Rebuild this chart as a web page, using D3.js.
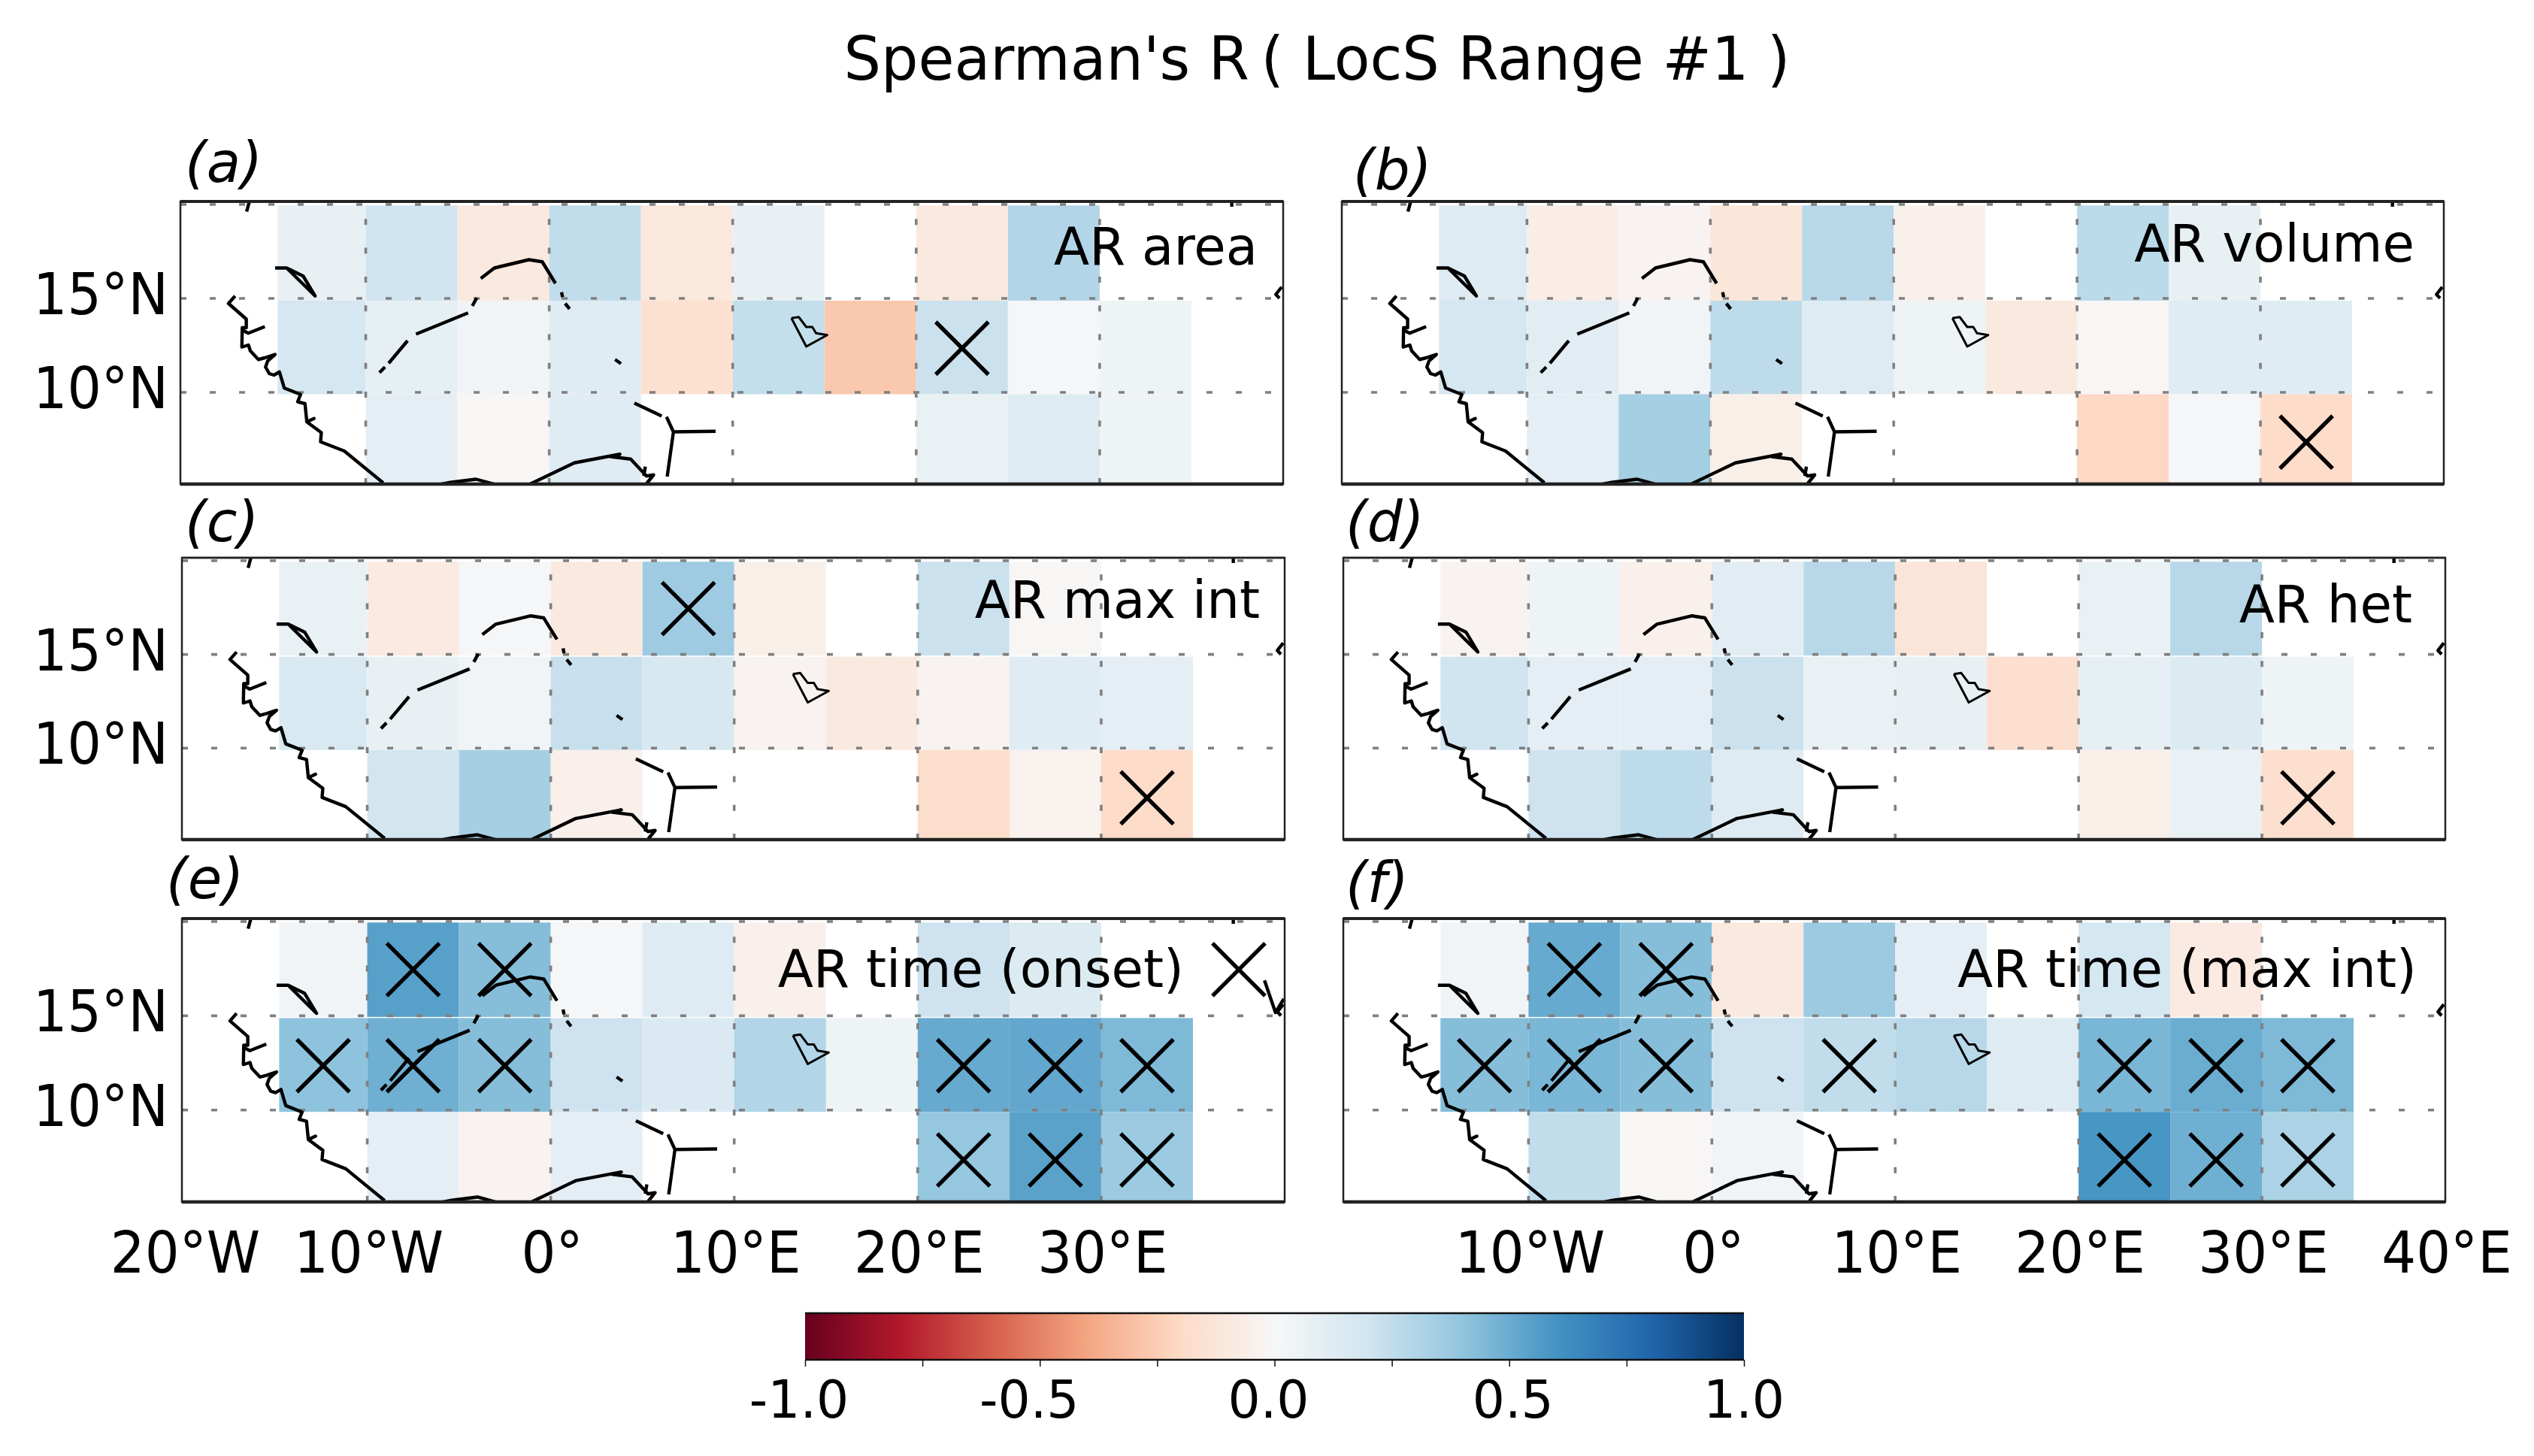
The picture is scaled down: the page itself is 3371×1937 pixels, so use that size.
<!DOCTYPE html>
<html>
<head>
<meta charset="utf-8">
<script src="https://cdn.jsdelivr.net/npm/d3@7"></script>
<style>
  html, body { margin: 0; padding: 0; background: #fff; }
  text { font-family: "DejaVu Sans", sans-serif; fill: #000; }
</style>
</head>
<body>
<div id="chart"></div>
<script>
// grid of the correlation maps
const lonEdges = [-14.8, -10, -5, 0, 5, 10, 15, 20, 25, 30, 35, 40];
const latEdges = [19.95, 14.88, 9.9, 4.9];
const latCenters = [17.45, 12.35, 7.35];

const lonTicks = [-20, -10, 0, 10, 20, 30, 40];
const latTicks = [15, 10];
const gridLons = [-10, 0, 10, 20, 30];
const gridLats = [20, 15, 10, 5];

const panelLetters = ["(a)", "(b)", "(c)", "(d)", "(e)", "(f)"];
const panelNames = ["AR area", "AR volume", "AR max int", "AR het", "AR time (onset)", "AR time (max int)"];

// Spearman's R, rows go north to south, columns west to east
const valuesA = [
  [0.08, 0.2, -0.1, 0.25, -0.11, 0.08, null, -0.1, 0.3, null, null],
  [0.18, 0.09, 0.03, 0.12, -0.16, 0.24, -0.27, 0.22, 0.01, 0.05, null],
  [null, 0.1, -0.01, 0.12, null, null, null, 0.07, 0.13, 0.05, null]
];
const valuesB = [
  [0.13, -0.07, -0.03, -0.12, 0.28, -0.05, null, 0.27, 0.08, null, null],
  [0.18, 0.11, 0.03, 0.26, 0.13, 0.05, -0.1, -0.01, 0.12, 0.12, null],
  [null, 0.1, 0.34, -0.06, null, null, null, -0.21, 0.01, -0.19, null]
];
const valuesC = [
  [0.07, -0.09, 0.01, -0.1, 0.36, -0.06, null, 0.22, -0.01, null, null],
  [0.16, 0.08, 0.03, 0.23, 0.17, -0.03, -0.1, -0.03, 0.12, 0.1, null],
  [null, 0.19, 0.34, -0.05, null, null, null, -0.18, -0.04, -0.19, null]
];
const valuesD = [
  [-0.03, 0.05, -0.05, 0.11, 0.28, -0.13, null, 0.07, 0.28, null, null],
  [0.2, 0.1, 0.1, 0.22, 0.07, 0.08, -0.17, 0.09, 0.14, 0.05, null],
  [null, 0.21, 0.26, 0.13, null, null, null, -0.06, 0.07, -0.17, null]
];
const valuesE = [
  [0.03, 0.55, 0.43, 0.01, 0.13, -0.05, null, 0.21, 0.14, null, null],
  [0.41, 0.49, 0.43, 0.21, 0.15, 0.3, 0.05, 0.51, 0.52, 0.45, null],
  [null, 0.1, -0.03, 0.1, null, null, null, 0.39, 0.54, 0.37, null]
];
const valuesF = [
  [0.03, 0.51, 0.43, -0.1, 0.37, 0.1, null, 0.18, -0.09, null, null],
  [0.43, 0.46, 0.43, 0.21, 0.25, 0.28, 0.13, 0.46, 0.5, 0.45, null],
  [null, 0.25, -0.01, 0.03, null, null, null, 0.59, 0.49, 0.32, null]
];
const panelValues = [valuesA, valuesB, valuesC, valuesD, valuesE, valuesF];

// significant cells as [row, column]
const sigA = [[1, 7]];
const sigB = [[2, 9]];
const sigC = [[0, 4], [2, 9]];
const sigD = [[2, 9]];
const sigE = [[0, 1], [0, 2], [0, 10], [1, 0], [1, 1], [1, 2], [1, 7], [1, 8], [1, 9], [2, 7], [2, 8], [2, 9]];
const sigF = [[0, 1], [0, 2], [1, 0], [1, 1], [1, 2], [1, 4], [1, 7], [1, 8], [1, 9], [2, 7], [2, 8], [2, 9]];
const panelSig = [sigA, sigB, sigC, sigD, sigE, sigF];

// coastline and river pieces as [lon, lat]
const westCoast = [[-17.12, 15.13], [-17.48, 14.73], [-16.51, 13.9], [-16.51, 13.44], [-16.73, 13.44], [-16.75, 12.41], [-16.39, 12.52], [-16.29, 12.21], [-15.85, 11.75], [-15.5, 11.84], [-14.94, 12.02], [-15.34, 11.68], [-15.46, 11.35], [-15.26, 11.0], [-15.0, 10.92], [-14.7, 11.09], [-14.44, 10.23], [-13.55, 9.89], [-13.71, 9.5], [-13.31, 9.4], [-13.21, 8.43], [-12.82, 8.61], [-13.21, 8.43], [-12.42, 7.86], [-12.46, 7.37], [-11.17, 6.88], [-9.05, 5.19]];
const gambiaInlet = [[-16.7, 13.3], [-16.4, 13.15], [-15.5, 13.5]];
const ivoryCoast = [[-6.57, 4.99], [-5.38, 5.21], [-3.99, 5.38], [-3.0, 5.12], [-3.0, 4.9]];
const guineaCoast = [[-1.41, 4.95], [1.37, 6.25], [3.85, 6.71], [3.35, 6.58], [4.44, 6.45], [5.3, 5.55], [5.69, 5.61], [5.34, 5.19], [5.44, 4.9]];
const nigerSpur = [[5.24, 6.05], [5.15, 5.55]];
const senegalRiver = [[-14.94, 16.62], [-14.31, 16.62], [-13.41, 16.19], [-12.76, 15.13], [-14.31, 16.62]];
const nigerArch = [[-3.73, 16.06], [-2.99, 16.62], [-1.11, 17.06], [-0.38, 16.95], [0.34, 15.8]];
const nigerPieceA = [[0.67, 15.33], [0.73, 15.07]];
const nigerPieceB = [[0.87, 14.73], [1.11, 14.44]];
const nigerPieceC = [[-3.95, 15.03], [-4.19, 14.6]];
const nigerPieceD = [[-4.42, 14.23], [-7.26, 13.1]];
const nigerPieceE = [[-7.72, 12.75], [-8.75, 11.55]];
const nigerPieceF = [[-8.95, 11.35], [-9.25, 11.05]];
const nigerPieceG = [[3.59, 11.75], [3.91, 11.53]];
const nigerPieceH = [[4.64, 9.43], [6.13, 8.74]];
const lowerNiger = [[6.39, 8.7], [6.77, 7.9], [6.43, 5.52]];
const benueRiver = [[6.77, 7.9], [9.07, 7.93]];
const lakeChad = [[13.2, 13.95], [13.6, 14.01], [14.01, 13.48], [14.34, 13.48], [14.54, 13.15], [15.15, 13.05], [14.01, 12.44], [13.2, 13.95]];
const topMarkWest = [[-16.33, 20.2], [-16.49, 19.62]];
const topMarkEast = [[37.2, 20.2], [37.2, 19.88]];
const redSeaMark = [[39.92, 15.61], [39.6, 15.21], [39.8, 15.01]];
const onsetExtra = [[38.9, 16.88], [39.5, 15.17], [39.95, 15.9]];
const coastPieces = [westCoast, gambiaInlet, ivoryCoast, guineaCoast, nigerSpur, senegalRiver, nigerArch, nigerPieceA, nigerPieceB, nigerPieceC, nigerPieceD, nigerPieceE, nigerPieceF, nigerPieceG, nigerPieceH, lowerNiger, benueRiver, lakeChad, topMarkWest, topMarkEast, redSeaMark];

// colour bar
const rdbuStops = [-1, -0.8, -0.6, -0.4, -0.2, 0, 0.2, 0.4, 0.6, 0.8, 1];
const rdbuColors = ["#67001f", "#b2182b", "#d6604d", "#f4a582", "#fddbc7", "#f7f7f7", "#d1e5f0", "#92c5de", "#4393c3", "#2166ac", "#053061"];
const cbTicks = [-1, -0.75, -0.5, -0.25, 0, 0.25, 0.5, 0.75, 1];
const cbLabels = [-1, -0.5, 0, 0.5, 1];

const width = 3371, height = 1937;

// frames of the six axes
const frames = [
  { l: 240, r: 1707, t: 268, b: 644, top: 4, gap: 0, lab: [246, 242], nameX: 1673, nameY: 352 },
  { l: 1785, r: 3251, t: 268, b: 644, top: 4, gap: 0, lab: [1800, 252], nameX: 3212, nameY: 348 },
  { l: 242, r: 1709, t: 742, b: 1117, top: 2.5, gap: 1.5, lab: [246, 720], nameX: 1676, nameY: 822 },
  { l: 1787, r: 3253, t: 742, b: 1117, top: 2.5, gap: 1.5, lab: [1790, 720], nameX: 3209, nameY: 828 },
  { l: 242, r: 1709, t: 1222, b: 1599, top: 4, gap: 1.5, lab: [221, 1195], nameX: 1575, nameY: 1313 },
  { l: 1787, r: 3253, t: 1222, b: 1599, top: 4, gap: 1.5, lab: [1790, 1200], nameX: 3215, nameY: 1313 }
];

const colorOf = d3.scaleLinear().domain(rdbuStops).range(rdbuColors).clamp(true);

const svg = d3.select("#chart").append("svg")
  .attr("width", width)
  .attr("height", height)
  .attr("viewBox", `0 0 ${width} ${height}`)
  .style("display", "block");

// tick text in the figure is a bit narrower than it is tall
const squeezed = (g, str, x, y, size, anchor, sx) => g.append("text")
  .attr("transform", `translate(${x},${y}) scale(${sx},1)`)
  .attr("text-anchor", anchor)
  .style("font-size", `${size}px`)
  .text(str);

svg.append("text")
  .attr("x", 1752)
  .attr("y", 106)
  .attr("text-anchor", "middle")
  .attr("textLength", 1259)
  .attr("lengthAdjust", "spacingAndGlyphs")
  .style("font-size", "80px")
  .text("Spearman's R\u2009( LocS Range #1 )");

const defs = svg.append("defs");

frames.forEach((f, p) => {
  const x = d3.scaleLinear().domain([-20.1, 40]).range([f.l, f.r]);
  const y = d3.scaleLinear().domain([5.12, 20.16]).range([f.b, f.t]);
  const g = svg.append("g").attr("class", `panel-${p}`);

  defs.append("clipPath").attr("id", `clip-${p}`)
    .append("rect")
    .attr("x", f.l).attr("y", f.t)
    .attr("width", f.r - f.l).attr("height", f.b - f.t);
  const inner = g.append("g").attr("clip-path", `url(#clip-${p})`);

  const cells = panelValues[p].flatMap((row, r) => row.map((v, c) => ({ v, r, c })))
    .filter(d => d.v !== null);

  inner.selectAll("rect.cell").data(cells).enter().append("rect")
    .attr("class", "cell")
    .attr("x", d => x(lonEdges[d.c]))
    .attr("y", d => y(latEdges[d.r]))
    .attr("width", d => x(lonEdges[d.c + 1]) - x(lonEdges[d.c]))
    .attr("height", d => y(latEdges[d.r + 1]) - y(latEdges[d.r]) - (d.r === 0 ? f.gap : 0))
    .attr("fill", d => colorOf(d.v));

  inner.selectAll("line.vgrid").data(gridLons).enter().append("line")
    .attr("class", "vgrid")
    .attr("x1", d => x(d)).attr("x2", d => x(d))
    .attr("y1", f.b).attr("y2", f.t)
    .attr("stroke", "#808080").attr("stroke-width", 3.6)
    .attr("stroke-dasharray", "8 30.3");

  inner.selectAll("line.hgrid").data(gridLats).enter().append("line")
    .attr("class", "hgrid")
    .attr("x1", f.l).attr("x2", f.r)
    .attr("y1", d => y(d)).attr("y2", d => y(d))
    .attr("stroke", "#808080").attr("stroke-width", 3.6)
    .attr("stroke-dasharray", "8 31");

  const line = d3.line().x(d => x(d[0])).y(d => y(d[1]));
  const pieces = p === 4 ? coastPieces.concat([onsetExtra]) : coastPieces;
  inner.selectAll("path.coast").data(pieces).enter().append("path")
    .attr("class", "coast")
    .attr("d", line)
    .attr("fill", "none")
    .attr("stroke", "#000")
    .attr("stroke-width", d => d === lakeChad ? 3 : 4.4)
    .attr("stroke-linejoin", "round");

  const crossPath = (cx, cy) => {
    const h = 35, path = d3.path();
    path.moveTo(cx - h, cy - h);
    path.lineTo(cx + h, cy + h);
    path.moveTo(cx - h, cy + h);
    path.lineTo(cx + h, cy - h);
    return path.toString();
  };
  inner.selectAll("path.sig").data(panelSig[p]).enter().append("path")
    .attr("class", "sig")
    .attr("d", d => crossPath(x((lonEdges[d[1]] + lonEdges[d[1] + 1]) / 2), y(latCenters[d[0]])))
    .attr("fill", "none")
    .attr("stroke", "#000")
    .attr("stroke-width", 5.4);

  // frame: left and right thin, top and bottom heavier
  g.append("rect")
    .attr("x", f.l).attr("y", f.t)
    .attr("width", f.r - f.l).attr("height", f.b - f.t)
    .attr("fill", "none").attr("stroke", "#222").attr("stroke-width", 2.5);
  g.append("line").attr("x1", f.l).attr("x2", f.r).attr("y1", f.t).attr("y2", f.t)
    .attr("stroke", "#222").attr("stroke-width", f.top);
  g.append("line").attr("x1", f.l).attr("x2", f.r).attr("y1", f.b).attr("y2", f.b)
    .attr("stroke", "#222").attr("stroke-width", 4.5);

  g.append("text")
    .attr("x", f.lab[0]).attr("y", f.lab[1])
    .style("font-size", "74px").style("font-style", "italic")
    .text(panelLetters[p]);

  g.append("text")
    .attr("x", f.nameX).attr("y", f.nameY)
    .attr("text-anchor", "end")
    .style("font-size", "69px")
    .text(panelNames[p]);

  if (p % 2 === 0) {
    latTicks.forEach(v => {
      squeezed(g, `${v}°N`, 224, y(v) + 21, 76, "end", 0.94);
    });
  }
  if (p >= 4) {
    const shown = p === 4 ? lonTicks.slice(0, 6) : lonTicks.slice(1);
    shown.forEach(v => {
      const str = v === 0 ? "0°" : `${Math.abs(v)}°${v < 0 ? "W" : "E"}`;
      squeezed(g, str, x(v) + 2, 1693, 76, "middle", 0.95);
    });
  }
});

// colour bar
const cbX = d3.scaleLinear().domain([-1, 1]).range([1071, 2320]);
const cbTop = 1747, cbBottom = 1809;

const grad = defs.append("linearGradient").attr("id", "rdbu");
grad.selectAll("stop").data(rdbuStops).enter().append("stop")
  .attr("offset", d => (d + 1) / 2)
  .attr("stop-color", d => colorOf(d));

svg.append("rect")
  .attr("x", cbX(-1)).attr("y", cbTop)
  .attr("width", cbX(1) - cbX(-1)).attr("height", cbBottom - cbTop)
  .attr("fill", "url(#rdbu)");

[cbTop, cbBottom].forEach(yy => {
  svg.append("line").attr("x1", cbX(-1)).attr("x2", cbX(1)).attr("y1", yy).attr("y2", yy)
    .attr("stroke", "#111").attr("stroke-width", 2.5);
});

const cbAxis = svg.append("g")
  .attr("transform", `translate(0,${cbBottom})`)
  .call(d3.axisBottom(cbX).tickValues(cbTicks).tickSize(9).tickFormat(""));
cbAxis.select(".domain").remove();
cbAxis.selectAll("line").attr("stroke", "#111").attr("stroke-width", 1.5);

// the labels sit slightly off their ticks in the figure
const cbNudge = { "-1": -8, "-0.5": -14, "0": -8, "0.5": 5, "1": 0 };
cbLabels.forEach(v => {
  squeezed(svg, v.toFixed(1), cbX(v) + cbNudge[v], 1886, 70, "middle", 0.97);
});
</script>
</body>
</html>
